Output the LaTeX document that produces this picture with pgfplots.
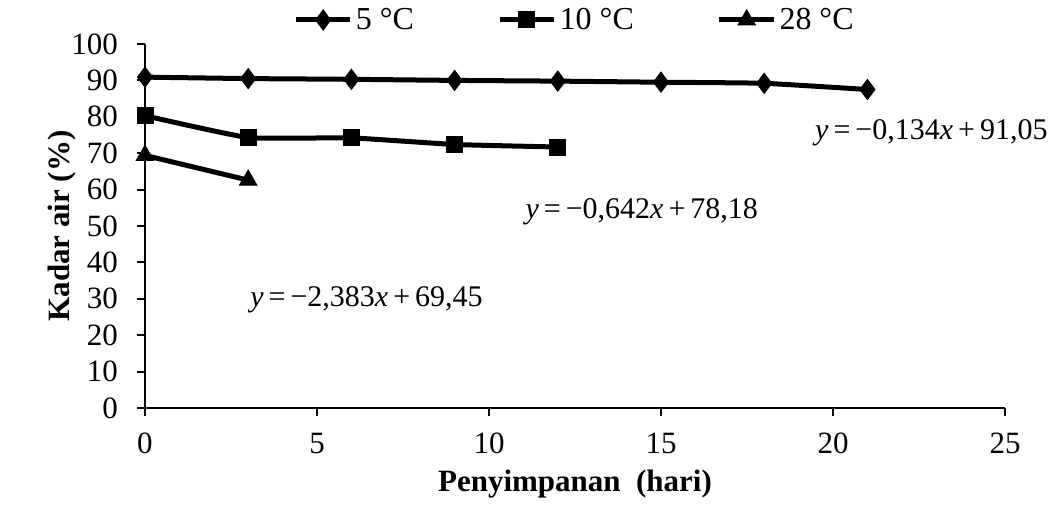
\documentclass[border=0pt]{standalone}
\usepackage{fontspec}
\setmainfont{Liberation Serif}
\usepackage{pgfplots}
\pgfplotsset{compat=1.18}

\begin{document}
\begin{tikzpicture}
\path (0pt,0pt) rectangle (526.5pt,260.5pt);
\begin{axis}[
  at={(72.5pt,56.5pt)}, anchor=south west,
  scale only axis, width=430pt, height=182pt,
  xmin=0, xmax=25, ymin=0, ymax=100,
  xtick={0,5,...,25}, ytick={0,10,...,100},
  axis lines=left, axis line style={line width=1pt, -},
  tick style={line width=1pt, black},
  tick align=outside, major tick length=4pt,
  /pgf/number format/assume math mode=true,
  ticklabel style={font=\fontsize{15.5}{15.5}\selectfont},
  xticklabel style={yshift=-5pt},
  yticklabel style={xshift=-6pt},
  xlabel={\textbf{Penyimpanan\ \ (hari)}},
  ylabel={\textbf{Kadar air (\%)}},
  label style={font=\fontsize{15.5}{15.5}\selectfont},
  xlabel style={yshift=-1pt},
  ylabel style={yshift=-9pt},
  clip=false,
  legend columns=3,
  legend style={at={(0.5,1.066)}, anchor=center, draw=none, fill=none,
    inner sep=0pt, font=\fontsize{16}{16}\selectfont,
    nodes={inner sep=1.5pt},
    /tikz/every even column/.append style={column sep=40pt}},
  legend image code/.code={
    \draw[#1, mark repeat=2, mark phase=2] plot coordinates {(0cm,0cm) (0.48cm,0cm) (0.96cm,0cm)};},
  every axis plot/.append style={line width=2.5pt, black, smooth, tension=0.25,
    mark options={solid, line width=0.5pt}},
]
\addplot[mark=diamond*, mark size=5pt] coordinates {
  (0,90.9) (3,90.5) (6,90.3) (9,90.0) (12,89.8) (15,89.5) (18,89.2) (21,87.5)};
\addlegendentry{5\hspace{4pt}°C}
\addplot[mark=square*, mark size=4pt] coordinates {
  (0,80.3) (3,74.3) (6,74.2) (9,72.4) (12,71.7)};
\addlegendentry{10\hspace{4pt}°C}
\addplot[mark=triangle*, mark size=5pt] coordinates {
  (0,69.4) (3,62.6)};
\addlegendentry{28\hspace{4pt}°C}
\node[anchor=east, font=\fontsize{15}{15}\selectfont, inner sep=0pt] at (axis cs:26.25,75.5)
  {\textit{y}\,=\,−0,134\textit{x}\,+\,91,05};
\node[anchor=west, font=\fontsize{15}{15}\selectfont, inner sep=0pt] at (axis cs:11.05,53.8)
  {\textit{y}\,=\,−0,642\textit{x}\,+\,78,18};
\node[anchor=west, font=\fontsize{15}{15}\selectfont, inner sep=0pt] at (axis cs:3.05,29.7)
  {\textit{y}\,=\,−2,383\textit{x}\,+\,69,45};
\end{axis}
\end{tikzpicture}
\end{document}
